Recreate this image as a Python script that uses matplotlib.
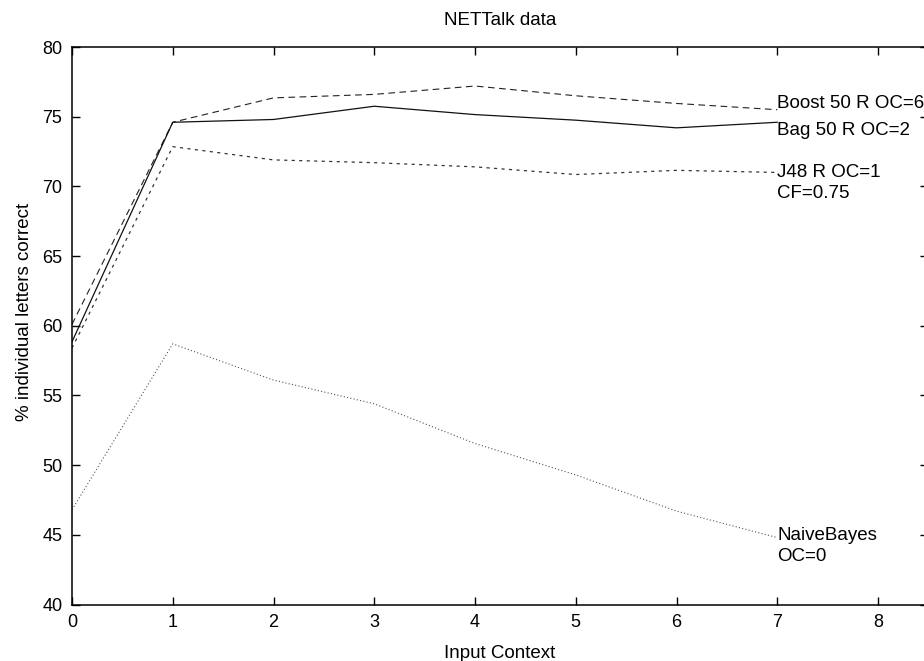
import matplotlib
matplotlib.use("Agg")
import matplotlib.pyplot as plt

# data
context = [0, 1, 2, 3, 4, 5, 6, 7]
boost = [60.1, 74.6, 76.35, 76.6, 77.2, 76.5, 75.95, 75.5]
bag = [58.85, 74.6, 74.8, 75.75, 75.15, 74.75, 74.2, 74.6]
j48 = [58.4, 72.85, 71.9, 71.7, 71.4, 70.85, 71.15, 71.0]
naive = [46.8, 58.7, 56.1, 54.4, 51.55, 49.3, 46.7, 44.8]

labels = ["Boost 50 R OC=6", "Bag 50 R OC=2", "J48 R OC=1\nCF=0.75", "NaiveBayes\nOC=0"]
label_y = [75.98, 73.99, 70.25, 44.2]

plt.rcParams['font.family'] = ['Liberation Sans', 'DejaVu Sans']

W, H = 924, 661
fig = plt.figure(figsize=(W / 100, H / 100), dpi=100)
ax = fig.add_axes([72 / W, 1 - 604.5 / H, (928.4 - 72) / W, (604.5 - 47) / H])

ax.plot(context, boost, color="#222222", lw=0.8, linestyle=(0, (6, 4)))
ax.plot(context, bag, color="#111111", lw=0.9, linestyle="-")
ax.plot(context, j48, color="#333333", lw=0.9, linestyle=(0, (2.5, 3.5)))
ax.plot(context, naive, color="#555555", lw=0.8, linestyle=(0, (1, 2)))

for txt, yv in zip(labels, label_y):
    ax.text(7.0, yv, txt, fontsize=13.5, ha="left", va="center", linespacing=1.25)

ax.set_xlim(0, 8.5)
ax.set_ylim(40, 80)
ax.set_xticks(range(0, 9))
ax.set_yticks(range(40, 81, 5))
ax.tick_params(direction="in", length=6, width=1, labelsize=13, pad=7,
               top=True, right=True)
for s in ax.spines.values():
    s.set_linewidth(1.1)

fig.text(500 / W, 1 - 658 / H, "Input Context", fontsize=13.5, ha="center", va="baseline")
fig.text(33 / W, 1 - 312 / H, "% individual letters correct", fontsize=13.5,
         rotation=90, ha="right", va="center")
fig.text(500 / W, 1 - 25 / H, "NETTalk data", fontsize=13.5, ha="center", va="baseline")

fig.savefig("out.png", dpi=100)
